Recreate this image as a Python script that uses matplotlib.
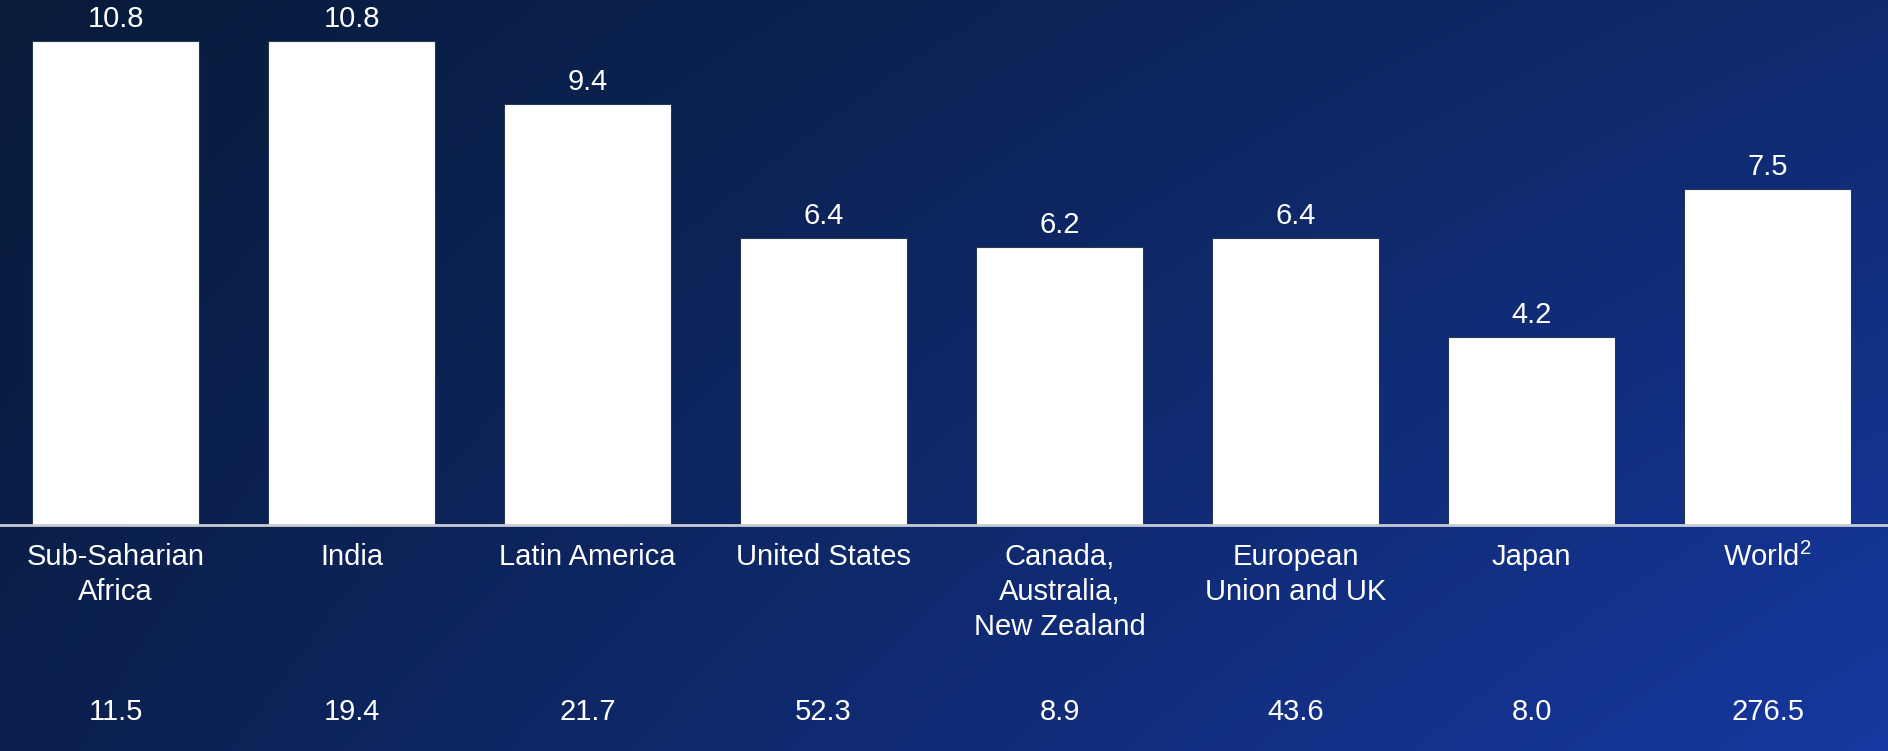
import numpy as np
import matplotlib
matplotlib.use("Agg")
import matplotlib.pyplot as plt

categories = ["Sub-Saharian\nAfrica", "India", "Latin America", "United States",
              "Canada,\nAustralia,\nNew Zealand", "European\nUnion and UK", "Japan", "World$^{2}$"]
values = [10.8, 10.8, 9.4, 6.4, 6.2, 6.4, 4.2, 7.5]
bottom_values = ["11.5", "19.4", "21.7", "52.3", "8.9", "43.6", "8.0", "276.5"]

W, H = 1888, 751
fig = plt.figure(figsize=(W / 100, H / 100), dpi=100)
plt.rcParams['font.family'] = ['Liberation Sans', 'DejaVu Sans']
plt.rcParams['mathtext.fontset'] = 'custom'
plt.rcParams['mathtext.rm'] = 'Liberation Sans'
plt.rcParams['mathtext.it'] = 'Liberation Sans'
plt.rcParams['mathtext.default'] = 'regular'

# background gradient (bilinear between corners)
bg = fig.add_axes([0, 0, 1, 1], zorder=-1)
tl = np.array([8, 27, 58]) / 255
tr = np.array([15, 42, 110]) / 255
bl = np.array([11, 32, 78]) / 255
br = np.array([22, 56, 160]) / 255
nx, ny = 400, 160
u = np.linspace(0, 1, nx)[None, :, None]
v = np.linspace(0, 1, ny)[:, None, None]
img = (1 - u) * (1 - v) * tl + u * (1 - v) * tr + (1 - u) * v * bl + u * v * br
bg.imshow(img, aspect='auto', extent=[0, 1, 0, 1], interpolation='bilinear')
bg.set_axis_off()

bottom_frac = (H - 525) / H
ax = fig.add_axes([0, bottom_frac, 1, 1 - bottom_frac])
ax.set_facecolor('none')
x = np.arange(len(values))
ax.bar(x, values, width=0.71, color='white', edgecolor='#2a3a4d', linewidth=0.8, zorder=2)
ax.set_xlim(-0.49, 7.51)
ax.set_ylim(0, 525 / 44.8)
for s in ax.spines.values():
    s.set_visible(False)
ax.set_xticks([])
ax.set_yticks([])
ax.axhline(0, color='#c8ccd2', linewidth=2, zorder=3, clip_on=False)

fs = 21
for xi, val in zip(x, values):
    ax.annotate(f"{val:.1f}", (xi, val), xytext=(0, 6), textcoords='offset points',
                ha='center', va='bottom', color='white', fontsize=fs)

trans = ax.get_xaxis_transform()
for xi, lab, bv in zip(x, categories, bottom_values):
    ax.text(xi, -(543 - 525) / 525, lab, transform=trans, ha='center', va='top',
            color='white', fontsize=fs, linespacing=1.32)
    ax.text(xi, -(712 - 525) / 525, bv, transform=trans, ha='center', va='center',
            color='white', fontsize=fs)

fig.savefig("out.png", dpi=100)
